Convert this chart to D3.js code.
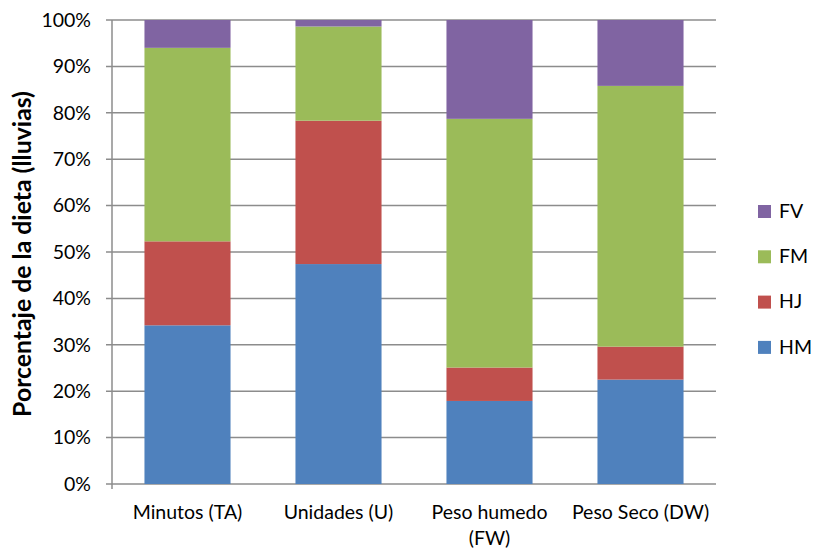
<!DOCTYPE html>
<html>
<head>
<meta charset="utf-8">
<script src="https://cdn.jsdelivr.net/npm/d3@7"></script>
<style>
  body { margin: 0; background: #fff; }
  svg { display: block; font-family: Lato, "Liberation Sans", sans-serif; }
</style>
</head>
<body>
<svg id="chart" width="815" height="548"></svg>
<script>
// Diet composition by measurement method (percent of total)
const categories = [["Minutos (TA)"], ["Unidades (U)"], ["Peso humedo", "(FW)"], ["Peso Seco (DW)"]];
const seriesNames = ["HM", "HJ", "FM", "FV"];
const HM = [34.2, 47.4, 17.9, 22.5];
const HJ = [18.1, 30.9, 7.2, 7.1];
const FM = [41.7, 20.3, 53.6, 56.2];
const FV = [6.0, 1.4, 21.3, 14.2];
const yTicks = [0, 10, 20, 30, 40, 50, 60, 70, 80, 90, 100];
const colors = { HM: "#4F81BD", HJ: "#C0504D", FM: "#9BBB59", FV: "#8064A2" };

const rows = categories.map((c, i) => ({ key: c.join(" "), lines: c, HM: HM[i], HJ: HJ[i], FM: FM[i], FV: FV[i] }));

const svg = d3.select("#chart");
const margin = { left: 112, right: 99, top: 20, bottom: 64 };
const W = 815, H = 548;
const x = d3.scaleBand().domain(rows.map(r => r.key)).range([margin.left, W - margin.right]).paddingInner(0.43).paddingOuter(0.215);
const y = d3.scaleLinear().domain([0, 100]).range([H - margin.bottom, margin.top]);

// gridlines
svg.append("g").selectAll("line").data(yTicks).join("line")
  .attr("x1", margin.left - 6).attr("x2", W - margin.right)
  .attr("y1", d => y(d)).attr("y2", d => y(d))
  .attr("stroke", "#8c8c8c").attr("stroke-width", 1.5);

// y axis line
svg.append("line").attr("x1", margin.left).attr("x2", margin.left)
  .attr("y1", y(100)).attr("y2", y(0) + 5)
  .attr("stroke", "#8c8c8c").attr("stroke-width", 1.5);

// y tick labels
svg.append("g").selectAll("text").data(yTicks).join("text")
  .attr("x", margin.left - 21).attr("y", d => y(d)).attr("dy", "0.35em")
  .attr("text-anchor", "end").attr("font-size", 19.5).attr("fill", "#000")
  .text(d => d + "%");

// stacked bars
const stack = d3.stack().keys(seriesNames)(rows);
svg.append("g").selectAll("g").data(stack).join("g")
  .attr("fill", d => colors[d.key])
  .selectAll("rect").data(d => d).join("rect")
  .attr("x", d => x(d.data.key)).attr("width", x.bandwidth())
  .attr("y", d => y(d[1])).attr("height", d => y(d[0]) - y(d[1]));

// x labels
const xl = svg.append("g").selectAll("text").data(rows).join("text")
  .attr("x", d => x(d.key) + x.bandwidth() / 2).attr("y", 519)
  .attr("text-anchor", "middle").attr("font-size", 19.5).attr("fill", "#000");
xl.selectAll("tspan").data(d => d.lines.map(l => ({ l, cx: x(d.key) + x.bandwidth() / 2 }))).join("tspan")
  .attr("x", d => d.cx).attr("dy", (d, i) => i === 0 ? 0 : 26).text(d => d.l);

// y axis title
svg.append("text").attr("transform", `translate(22,${(y(0) + y(100)) / 2 + 2}) rotate(-90)`)
  .attr("text-anchor", "middle").attr("dy", "0.35em").attr("font-size", 24.8).attr("font-weight", "bold")
  .text("Porcentaje de la dieta (lluvias)");

// legend
const legendItems = ["FV", "FM", "HJ", "HM"];
const lg = svg.append("g").selectAll("g").data(legendItems).join("g")
  .attr("transform", (d, i) => `translate(758,${211 + i * 45.3})`);
lg.append("rect").attr("x", 0).attr("y", -6).attr("width", 13).attr("height", 13).attr("fill", d => colors[d]);
lg.append("text").attr("x", 21).attr("y", 0).attr("dy", "0.35em").attr("font-size", 19.5).text(d => d);
</script>
</body>
</html>
